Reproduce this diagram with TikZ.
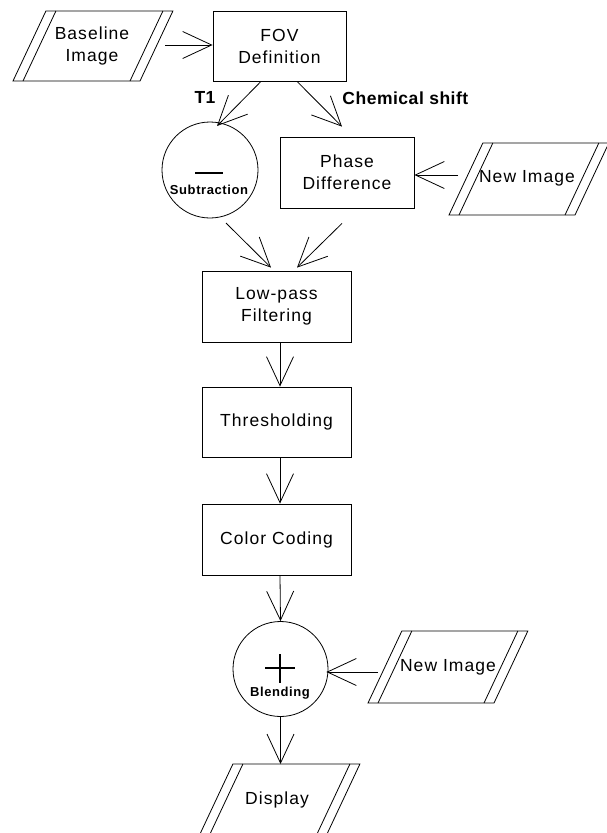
\documentclass[tikz,border=0pt]{standalone}
\usepackage{fontspec}
\setmainfont{Liberation Sans}
\newfontfamily\boxfont{Liberation Sans}[LetterSpace=6]
\newfontfamily\lblfont{Liberation Sans}[LetterSpace=3]
\newfontfamily\smlfont{Liberation Sans}[LetterSpace=4.5]
\usetikzlibrary{arrows.meta,calc}
\begin{document}
\begin{tikzpicture}[x=1pt,y=-1pt,line width=0.8pt,
  txt/.style={font=\boxfont\fontsize{17.5}{22}\selectfont, align=center, inner sep=0pt},
  boxnode/.style={draw, rectangle, txt},
  circnode/.style={draw, circle, inner sep=0pt},
  biglbl/.style={font=\lblfont\bfseries\fontsize{17.5}{20}\selectfont, inner sep=0pt},
  smalllbl/.style={font=\smlfont\bfseries\fontsize{13}{15}\selectfont, inner sep=0pt},
  arr/.style={-{Straight Barb[length=29pt,width=27pt]}},
  bar/.style={line width=2.4pt}
]
\useasboundingbox (0,0) rectangle (606,833);
\newcommand\pgram[4]{%
  \draw (#1,#2) -- ++(#3,0) -- ++(0.47*#4,-#4) -- ++(-#3,0) -- cycle;
  \draw (#1+10,#2) -- ++(0.47*#4,-#4);
  \draw (#1+#3-10,#2) -- ++(0.47*#4,-#4);}

% parallelograms
\pgram{13}{81}{127}{70}
\node[txt] (base) at (92,46) {Baseline\\Image};
\pgram{449}{215}{126}{72}
\node[txt] (ni1) at (527,178) {New Image};
\pgram{368}{703}{126}{72}
\node[txt] (ni2) at (448,667) {New Image};
\pgram{200}{834}{127}{70}
\node[txt] (disp) at (277,800) {Display};

% boxes
\node[boxnode, minimum width=133pt, minimum height=70pt] (fov) at (279.5,46) {FOV\\Definition};
\node[boxnode, minimum width=134pt, minimum height=71pt] (phase) at (347,172.5) {Phase\\Difference};
\node[boxnode, minimum width=149pt, minimum height=71pt] (low) at (276.5,306.5) {Low-pass\\Filtering};
\node[boxnode, minimum width=149pt, minimum height=70pt] (thr) at (276.5,422) {Thresholding};
\node[boxnode, minimum width=149pt, minimum height=71pt] (col) at (276.5,539.5) {Color Coding};

% circles
\node[circnode, minimum size=96pt] (sub) at (210,170) {};
\draw[bar] (195,173) -- (223,173);
\node[smalllbl] (sublbl) at (209,190) {Subtraction};
\node[circnode, minimum size=95pt] (blend) at (280.5,669) {};
\draw[bar] (265,668) -- (295,668) (280,654) -- (280,683);
\node[smalllbl] (blendlbl) at (280,693) {Blending};

% labels
\node[biglbl] (t1) at (205,97.5) {T1};
\node[biglbl, anchor=west] (chem) at (342,98) {Chemical shift};

% connectors
\draw[arr] ($(base)+(73,-1)$) -- ($(fov.west)+(0,-1)$);
\draw[arr] ($(fov.south)+(-18.5,0)$) -- ($(sub.center)+(7,-44)$);
\draw[arr] ($(fov.south)+(17.5,0)$) -- ($(phase.north)+(-5,-10)$);
\draw[arr] ($(ni1)+(-69,-3)$) -- ($(phase.east)+(0,2.5)$);
\draw[arr] ($(sub.center)+(16,53)$) -- ($(low.north)+(-5.5,-3)$);
\draw[arr] ($(phase.south)+(-5,15)$) -- ($(low.north)+(20.5,-3)$);
\draw[arr] ($(low.south)+(3.5,0)$) -- ($(thr.north)+(3.5,0)$);
\draw[arr] ($(thr.south)+(3.5,0)$) -- ($(col.north)+(3.5,0)$);
\draw[arr] ($(col.south)+(3.5,0)$) -- (blend.north);
\draw[arr] ($(ni2)+(-70,5)$) -- ($(blend.east)+(-2,3)$);
\draw[arr] (blend.south) -- ($(disp)+(3.5,-36)$);
\end{tikzpicture}
\end{document}
